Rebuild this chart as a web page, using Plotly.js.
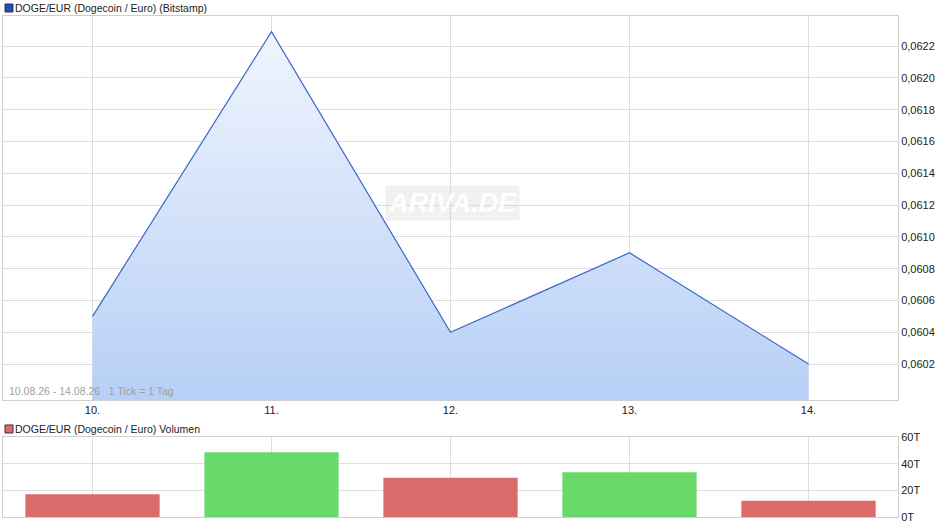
<!DOCTYPE html>
<html><head><meta charset="utf-8">
<script src="https://cdn.plot.ly/plotly-3.0.1.min.js"></script>
<style>html,body{margin:0;padding:0;background:#fff}#c{width:940px;height:526px}</style>
</head><body><div id="c"></div>
<script>
const days = [10, 11, 12, 13, 14];
const dayLabels = ['10.', '11.', '12.', '13.', '14.'];
const prices = [0.0605, 0.06229, 0.0604, 0.0609, 0.0602];
const volumes = [17, 48.5, 29.5, 33.5, 12.2];
const volColors = ['#db6a6a', '#6ad96a', '#db6a6a', '#6ad96a', '#db6a6a'];
const priceTicks = [0.0602, 0.0604, 0.0606, 0.0608, 0.0610, 0.0612, 0.0614, 0.0616, 0.0618, 0.0620, 0.0622];
const volTicks = [0, 20, 40, 60];
const volTickText = ['0T', '20T', '40T', '60T'];

const yMin = 0.059974, yMax = 0.062389;
const grid = '#dedede';
const font = {family: 'Liberation Sans, Arial, sans-serif', size: 11, color: '#222'};
const titleFont = {family: 'Liberation Sans, Arial, sans-serif', size: 10.5, color: '#222'};

const traces = [
  {x: days, y: prices, type: 'scatter', mode: 'lines', xaxis: 'x', yaxis: 'y',
   line: {color: '#3a66c8', width: 1.2},
   fill: 'tozeroy',
   fillgradient: {type: 'vertical', start: yMin, stop: 0.0623,
     colorscale: [[0, '#b7cff6'], [1, '#f0f5fd']]},
   hoverinfo: 'skip'},
  {x: days, y: volumes, type: 'bar', xaxis: 'x2', yaxis: 'y2', width: 0.75,
   marker: {color: volColors, line: {width: 0}}, hoverinfo: 'skip'}
];

const axBase = {showline: true, mirror: true, linecolor: '#cfcfcf', linewidth: 1,
  gridcolor: grid, gridwidth: 1, zeroline: false, ticks: '', tickfont: font, fixedrange: true};

const layout = {
  width: 940, height: 526, showlegend: false,
  paper_bgcolor: '#fff', plot_bgcolor: '#fff',
  separators: ',.',
  margin: {l: 3, r: 42, t: 16, b: 9},
  font: font,
  xaxis: Object.assign({}, axBase, {domain: [0, 1], range: [9.5, 14.5], tickvals: days, ticktext: dayLabels, anchor: 'y'}),
  yaxis: Object.assign({}, axBase, {domain: [0.2335, 1], range: [yMin, yMax], side: 'right', tickvals: priceTicks,
    tickformat: '.4f', anchor: 'x'}),
  xaxis2: Object.assign({}, axBase, {domain: [0, 1], range: [9.5, 14.5], tickvals: days, showticklabels: false, anchor: 'y2'}),
  yaxis2: Object.assign({}, axBase, {domain: [0, 0.1597], range: [0, 60], side: 'right', tickvals: volTicks, ticktext: volTickText, anchor: 'x2'}),
  annotations: [
    {xref: 'paper', yref: 'paper', x: 0.011, y: 1.0, yshift: 16, xanchor: 'left', yanchor: 'top',
     text: 'DOGE/EUR (Dogecoin / Euro) (Bitstamp)', showarrow: false, font: titleFont},
    {xref: 'paper', yref: 'paper', x: 0.011, y: 0.1597, yshift: 16, xanchor: 'left', yanchor: 'top',
     text: 'DOGE/EUR (Dogecoin / Euro) Volumen', showarrow: false, font: titleFont},
    {xref: 'paper', yref: 'paper', x: 0.004, y: 0.2335, yshift: 1, xanchor: 'left', yanchor: 'bottom',
     text: '10.08.26 - 14.08.26&nbsp;&nbsp;&nbsp;1 Tick = 1 Tag', showarrow: false,
     font: {family: font.family, size: 10.5, color: '#a0a0a0'}},
    {xref: 'x', yref: 'y', x: 12.01, y: 0.06121, xanchor: 'center', yanchor: 'middle',
     text: '<b><i>ARIVA.DE</i></b>', showarrow: false,
     font: {family: font.family, size: 27, color: 'rgba(255,255,255,0.95)'},
     bgcolor: 'rgba(215,215,215,0.35)', borderpad: 2}
  ],
  shapes: [
    {type: 'rect', xref: 'paper', yref: 'paper',
     xsizemode: 'pixel', ysizemode: 'pixel', xanchor: 0, yanchor: 1,
     x0: 2, x1: 10, y0: 12, y1: 4, fillcolor: '#1f4fbf', line: {color: '#333', width: 1}},
    {type: 'rect', xref: 'paper', yref: 'paper',
     xsizemode: 'pixel', ysizemode: 'pixel', xanchor: 0, yanchor: 0.1597,
     x0: 2, x1: 10, y0: 12, y1: 4, fillcolor: '#db6a6a', line: {color: '#333', width: 1}}
  ]
};

Plotly.newPlot('c', traces, layout, {staticPlot: true, displayModeBar: false});
</script>
</body></html>
